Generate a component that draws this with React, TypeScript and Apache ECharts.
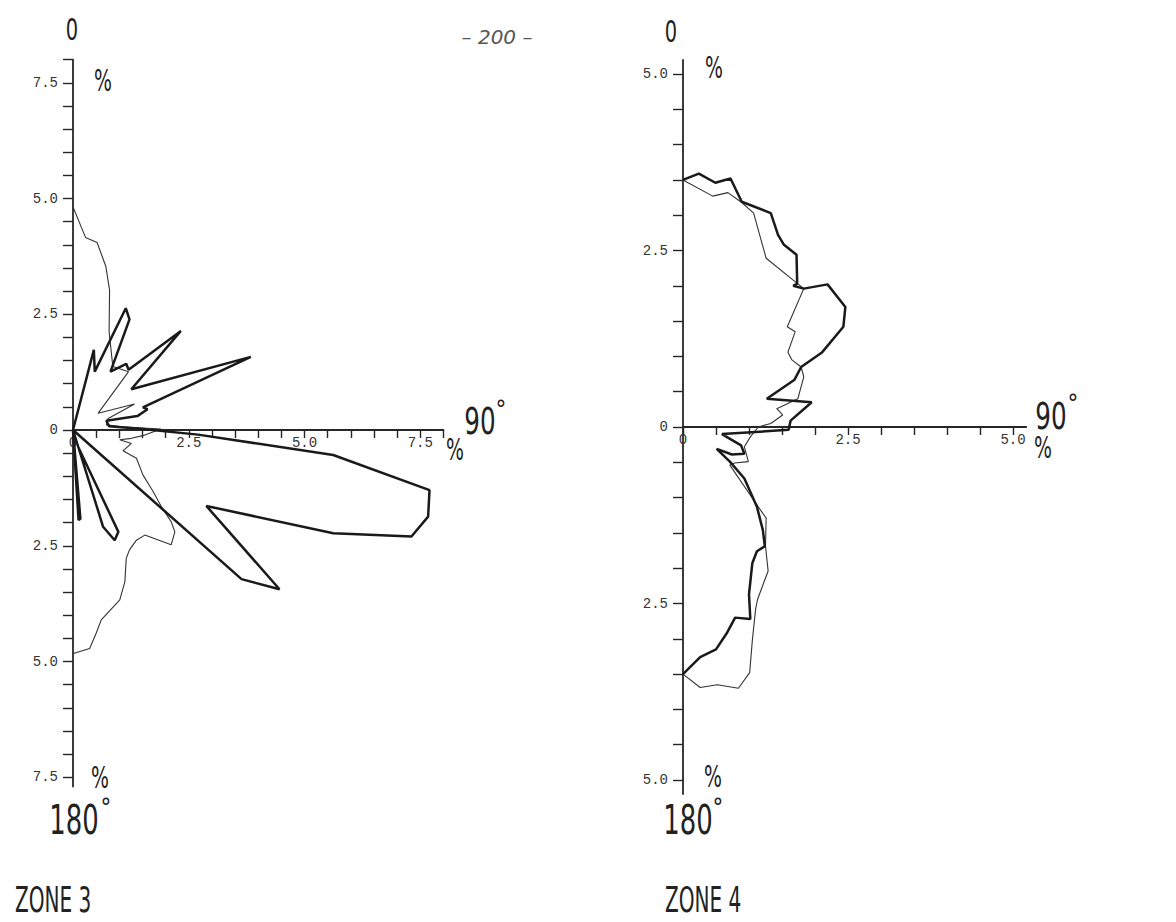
import React, { useEffect, useRef } from "react";
import * as echarts from "echarts";

// Points are [east component, north component] in percent; north = 0°, east = 90°, south = 180°.
const zone3Thin: [number, number][] = [
  [0, 4.82], [0.27, 4.16], [0.52, 4.05], [0.71, 3.53], [0.79, 3.02], [0.78, 2.12],
  [0.86, 1.37], [1.2, 1.26], [0.54, 0.36], [1.33, 0.56], [0.76, 0.25], [0.72, 0.11],
  [1.05, 0.07], [1.9, 0.02], [1.55, -0.11], [1.26, -0.18], [1.01, -0.21], [1.26, -0.29],
  [1.08, -0.45], [1.37, -0.61], [1.51, -0.97], [1.73, -1.33], [1.91, -1.66], [2.12, -1.98],
  [2.2, -2.2], [2.12, -2.48], [1.55, -2.27], [1.37, -2.38], [1.22, -2.59], [1.15, -2.77],
  [1.12, -3.28], [1.01, -3.67], [0.61, -4.1], [0.5, -4.39], [0.36, -4.72], [0.06, -4.81],
  [0, -4.83],
];

const zone3Thick: [number, number][] = [
  [0, 0], [0.45, 1.73], [0.47, 1.26], [1.14, 2.63], [1.22, 2.39], [0.81, 1.26],
  [1.15, 1.43], [1.2, 1.3], [2.33, 2.14], [1.26, 0.88], [3.84, 1.58], [1.51, 0.49],
  [1.61, 0.45], [1.39, 0.3], [0.72, 0.2], [0.78, 0.08], [1.5, 0.02], [2.7, -0.1],
  [5.62, -0.54], [7.7, -1.3], [7.67, -1.87], [7.31, -2.3], [5.62, -2.23], [2.88, -1.64],
  [4.46, -3.44], [3.64, -3.22], [0, 0], [0.65, -2.09], [0.9, -2.38], [0.98, -2.2],
  [0.11, -0.36], [0, 0], [0.12, -1.94], [0.16, -1.92], [0, 0],
];

const zone4Thin: [number, number][] = [
  [0, 3.5], [0.45, 3.27], [0.68, 3.32], [0.89, 3.18], [1.07, 3.03], [1.26, 2.39],
  [1.67, 2.08], [1.83, 1.96], [1.58, 1.42], [1.7, 1.35], [1.59, 1.06], [1.65, 0.95],
  [1.79, 0.85], [1.83, 0.71], [1.74, 0.4], [1.42, 0.26], [1.51, 0.17], [1.33, 0.05],
  [1.14, 0], [1.02, -0.14], [0.93, -0.28], [0.99, -0.49], [0.78, -0.51], [0.71, -0.54],
  [1.14, -1.13], [1.26, -1.29], [1.25, -1.69], [1.29, -2.04], [1.13, -2.44], [1.1, -2.58],
  [1.05, -3.03], [1.01, -3.48], [0.84, -3.7], [0.52, -3.65], [0.26, -3.69], [0, -3.5],
];

const zone4Thick: [number, number][] = [
  [0, 3.5], [0.24, 3.59], [0.49, 3.46], [0.72, 3.52], [0.89, 3.19], [1.33, 3.03],
  [1.44, 2.72], [1.53, 2.58], [1.72, 2.44], [1.73, 2.03], [1.67, 2.0], [1.83, 1.96],
  [2.19, 2.02], [2.46, 1.7], [2.43, 1.42], [2.11, 1.06], [1.79, 0.85], [1.69, 0.67],
  [1.27, 0.4], [1.95, 0.35], [1.63, 0.09], [1.6, -0.04], [0.59, -0.1], [0.88, -0.26],
  [0.93, -0.38], [0.74, -0.39], [0.51, -0.31], [0.71, -0.49], [0.93, -0.73], [1.12, -1.13],
  [1.21, -1.46], [1.24, -1.69], [1.12, -1.76], [1.05, -1.93], [1.0, -2.37], [1.02, -2.72],
  [0.79, -2.7], [0.67, -2.91], [0.5, -3.15], [0.26, -3.26], [0, -3.5],
];

// Axis ticks and labels (percent)
const zone3RadialTicks = [
  -7.5, -7, -6.5, -6, -5.5, -5, -4.5, -4, -3.5, -3, -2.5, -2, -1.5, -1, -0.5, 0,
  0.5, 1, 1.5, 2, 2.5, 3, 3.5, 4, 4.5, 5, 5.5, 6, 6.5, 7, 7.5, 8,
];
const zone3RadialLabels = [-7.5, -5, -2.5, 0, 2.5, 5, 7.5];
const zone3EastTicks = [0, 0.5, 1, 1.5, 2, 2.5, 3, 3.5, 4, 4.5, 5, 5.5, 6, 6.5, 7, 7.5, 8];
const zone3EastLabels = [0, 2.5, 5, 7.5];

const zone4RadialTicks = [
  -5, -4.5, -4, -3.5, -3, -2.5, -2, -1.5, -1, -0.5, 0,
  0.5, 1, 1.5, 2, 2.5, 3, 3.5, 4, 4.5, 5,
];
const zone4RadialLabels = [-5, -2.5, 0, 2.5, 5];
const zone4EastTicks = [0, 0.5, 1, 1.5, 2, 2.5, 3, 3.5, 4, 4.5, 5];
const zone4EastLabels = [0, 2.5, 5];

const INK = "#262626";
const fmt = (v: number) => (v === 0 ? "0" : Math.abs(v).toFixed(1));
const BIG_FONT = '"DejaVu Sans Condensed", "Liberation Sans Narrow", "DejaVu Sans", sans-serif';
const MONO = '"Liberation Mono", "DejaVu Sans Mono", monospace';

function xAxisCfg(gridIndex: number, max: number, offset: number, ticks: number[], labels: number[]) {
  return {
    type: "value",
    gridIndex,
    min: 0,
    max,
    position: "bottom",
    offset,
    axisLine: { show: true, onZero: false, lineStyle: { color: INK, width: 1.8 } },
    axisTick: { show: true, length: 8, customValues: ticks, lineStyle: { color: INK, width: 1.4 } },
    axisLabel: {
      show: true,
      customValues: labels,
      formatter: fmt,
      margin: 6,
      fontFamily: MONO,
      fontSize: 14,
      color: "#333",
      showMinLabel: true,
      showMaxLabel: true,
    },
    splitLine: { show: false },
  };
}

function yAxisCfg(gridIndex: number, min: number, max: number, ticks: number[], labels: number[]) {
  return {
    type: "value",
    gridIndex,
    min,
    max,
    position: "left",
    axisLine: { show: true, onZero: false, lineStyle: { color: INK, width: 1.8 } },
    axisTick: { show: true, length: 10, customValues: ticks, lineStyle: { color: INK, width: 1.4 } },
    axisLabel: {
      show: true,
      customValues: labels,
      formatter: fmt,
      margin: 15,
      fontFamily: MONO,
      fontSize: 14,
      color: "#333",
    },
    splitLine: { show: false },
  };
}

function bigText(text: string, x: number, y: number, size: number, scaleX = 0.72, align = "center") {
  return {
    type: "text",
    x,
    y,
    scaleX,
    silent: true,
    style: {
      text,
      fill: "#222",
      font: `${size}px ${BIG_FONT}`,
      align,
      verticalAlign: "middle",
    },
  };
}

export default function App() {
  const ref = useRef<HTMLDivElement>(null);

  useEffect(() => {
    if (!ref.current) return;
    const chart = echarts.init(ref.current, undefined, { renderer: "svg" });

    // zone 3: origin at (73, 430), 46.3 px per percent
    const s3 = 46.3;
    const o3x = 73, o3y = 430;
    const z3Max = 8, z3Min = -7.7;
    // zone 4: origin at (683, 427), 66 px/% east, 70.6 px/% north-south
    const s4x = 66, s4y = 70.6;
    const o4x = 683, o4y = 427;
    const z4Ext = 5.2;

    const option: any = {
      animation: false,
      backgroundColor: "#ffffff",
      grid: [
        {
          left: o3x,
          top: o3y - z3Max * s3,
          width: z3Max * s3,
          height: (z3Max - z3Min) * s3,
          containLabel: false,
          outerBoundsMode: "none",
        },
        {
          left: o4x,
          top: o4y - z4Ext * s4y,
          width: z4Ext * s4x,
          height: 2 * z4Ext * s4y,
          containLabel: false,
          outerBoundsMode: "none",
        },
      ],
      xAxis: [
        xAxisCfg(0, z3Max, z3Min * s3, zone3EastTicks, zone3EastLabels),
        xAxisCfg(1, z4Ext, -z4Ext * s4y, zone4EastTicks, zone4EastLabels),
      ],
      yAxis: [
        yAxisCfg(0, z3Min, z3Max, zone3RadialTicks, zone3RadialLabels),
        yAxisCfg(1, -z4Ext, z4Ext, zone4RadialTicks, zone4RadialLabels),
      ],
      series: [
        {
          type: "line", xAxisIndex: 0, yAxisIndex: 0, data: zone3Thin, showSymbol: false,
          lineStyle: { color: "#333", width: 1.1 }, silent: true, clip: false,
        },
        {
          type: "line", xAxisIndex: 0, yAxisIndex: 0, data: zone3Thick, showSymbol: false,
          lineStyle: { color: "#1a1a1a", width: 2.5 }, silent: true, clip: false,
        },
        {
          type: "line", xAxisIndex: 1, yAxisIndex: 1, data: zone4Thin, showSymbol: false,
          lineStyle: { color: "#333", width: 1.1 }, silent: true, clip: false,
        },
        {
          type: "line", xAxisIndex: 1, yAxisIndex: 1, data: zone4Thick, showSymbol: false,
          lineStyle: { color: "#1a1a1a", width: 2.5 }, silent: true, clip: false,
        },
      ],
      graphic: [
        {
          type: "text", x: 497, y: 37, silent: true,
          style: {
            text: "– 200 –", fill: "#555", align: "center", verticalAlign: "middle",
            font: 'italic 20px "DejaVu Sans", sans-serif',
          },
        },
        // zone 3 annotations
        bigText("0", 72, 30, 30),
        bigText("%", 103, 81, 30, 0.7),
        bigText("90", 480, 421, 38),
        bigText("°", 501, 410, 24, 1),
        bigText("%", 455, 450, 30, 0.7),
        bigText("%", 100, 778, 30, 0.7),
        bigText("180", 74, 820, 40),
        bigText("°", 106, 808, 24, 1),
        bigText("ZONE 3", 15, 899, 36, 0.62, "left"),
        // zone 4 annotations
        bigText("0", 671, 32, 30),
        bigText("%", 714, 68, 30, 0.7),
        bigText("90", 1051, 416, 38),
        bigText("°", 1073, 404, 24, 1),
        bigText("%", 1043, 448, 30, 0.7),
        bigText("%", 713, 777, 30, 0.7),
        bigText("180", 688, 820, 40),
        bigText("°", 718, 808, 24, 1),
        bigText("ZONE 4", 665, 899, 36, 0.62, "left"),
      ],
    };

    chart.setOption(option);
    return () => chart.dispose();
  }, []);

  return (
    <div
      ref={ref}
      style={{ position: "fixed", left: 0, top: 0, width: 1176, height: 922, background: "#fff" }}
    />
  );
}
